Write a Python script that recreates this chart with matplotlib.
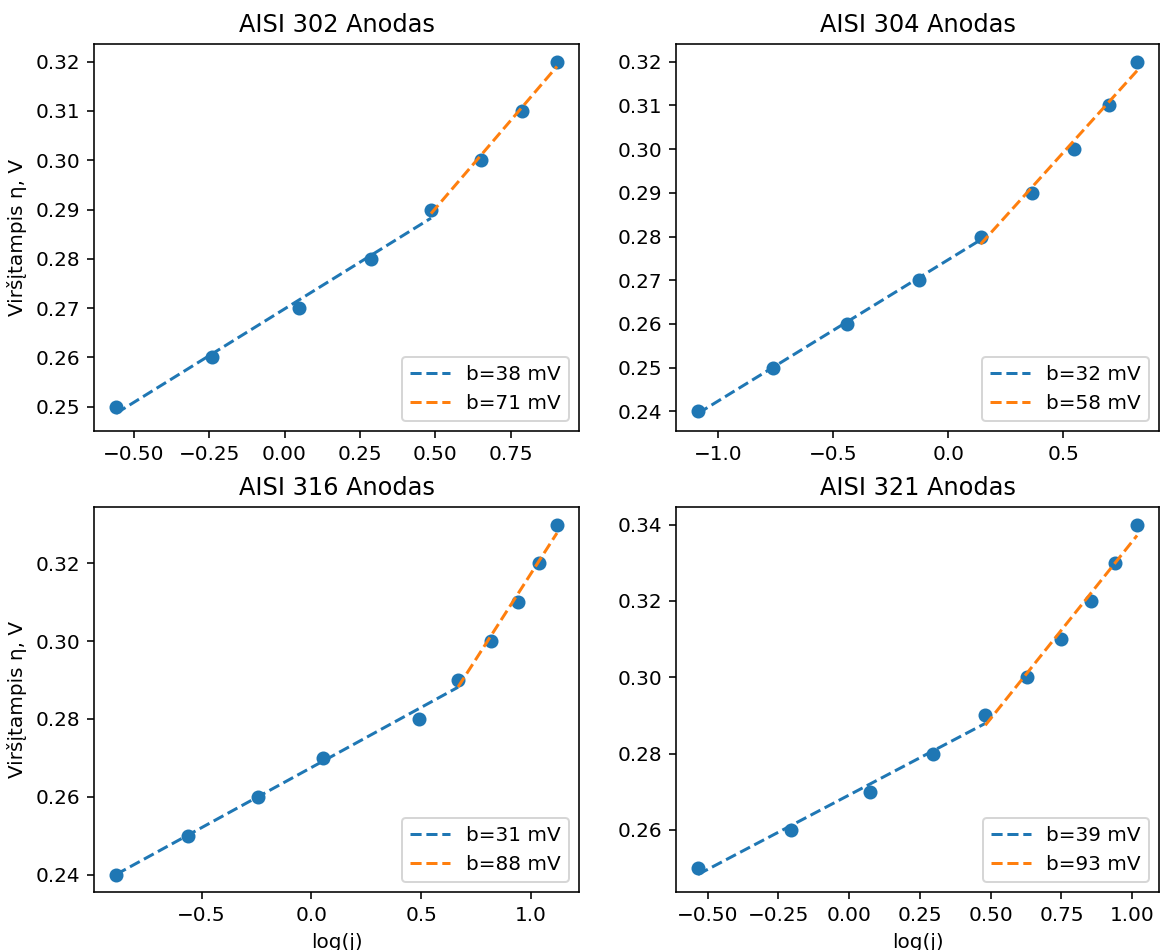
import numpy as np
import matplotlib
matplotlib.use("Agg")
import matplotlib.pyplot as plt

# Tafel data: log of current density vs. overpotential for each steel anode
titles = ["AISI 302 Anodas", "AISI 304 Anodas", "AISI 316 Anodas", "AISI 321 Anodas"]

logj_302 = [-0.559, -0.239, 0.047, 0.287, 0.486, 0.652, 0.789, 0.904]
eta_302 = [0.25, 0.26, 0.27, 0.28, 0.29, 0.30, 0.31, 0.32]

logj_304 = [-1.088, -0.761, -0.440, -0.127, 0.140, 0.364, 0.545, 0.696, 0.820]
eta_304 = [0.24, 0.25, 0.26, 0.27, 0.28, 0.29, 0.30, 0.31, 0.32]

logj_316 = [-0.889, -0.562, -0.245, 0.051, 0.491, 0.668, 0.816, 0.939, 1.037, 1.118]
eta_316 = [0.24, 0.25, 0.26, 0.27, 0.28, 0.29, 0.30, 0.31, 0.32, 0.33]

logj_321 = [-0.534, -0.205, 0.072, 0.296, 0.481, 0.629, 0.750, 0.854, 0.940, 1.017]
eta_321 = [0.25, 0.26, 0.27, 0.28, 0.29, 0.30, 0.31, 0.32, 0.33, 0.34]

# index where the low-slope region ends and the high-slope region begins
break_idx = [4, 4, 5, 4]

datasets = [(logj_302, eta_302), (logj_304, eta_304),
            (logj_316, eta_316), (logj_321, eta_321)]

W, H, DPI = 1160, 950, 144
fig = plt.figure(figsize=(W / DPI, H / DPI), dpi=DPI)

# axes rectangles in pixels: (left, top, right, bottom)
rects_px = [(94, 44, 579, 431), (676, 44, 1159, 431),
            (94, 507, 579, 892), (676, 507, 1159, 892)]

for i, ((x, y), k, title, r) in enumerate(zip(datasets, break_idx, titles, rects_px)):
    l, t, rr, b = r
    ax = fig.add_axes([l / W, 1 - b / H, (rr - l) / W, (b - t) / H])
    x = np.asarray(x)
    y = np.asarray(y)
    ax.scatter(x, y, color="C0")

    x1, y1 = x[:k + 1], y[:k + 1]
    x2, y2 = x[k:], y[k:]
    p1 = np.polyfit(x1, y1, 1)
    p2 = np.polyfit(x2, y2, 1)
    ax.plot(x1, np.polyval(p1, x1), "--", color="C0",
            label=f"b={p1[0] * 1000:.0f} mV")
    ax.plot(x2, np.polyval(p2, x2), "--", color="C1",
            label=f"b={p2[0] * 1000:.0f} mV")

    ax.set_title(title)
    ax.legend(loc="lower right")
    if i % 2 == 0:
        ax.set_ylabel("Viršįtampis η, V")
    if i >= 2:
        ax.set_xlabel("log(j)")

fig.savefig("out.png", dpi=DPI)
